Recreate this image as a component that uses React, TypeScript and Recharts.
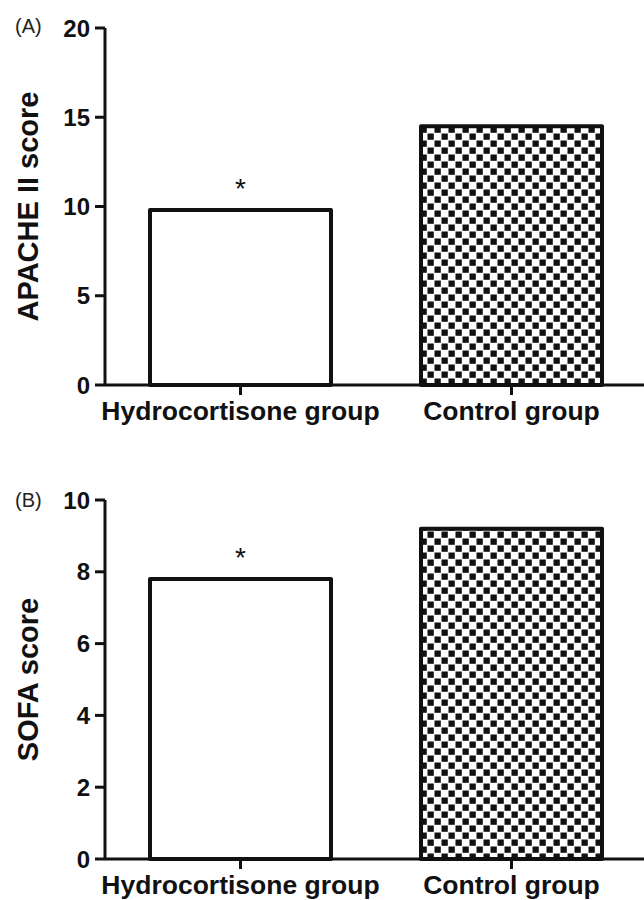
import React from "react";
import { BarChart, Bar, XAxis, YAxis, Cell, LabelList } from "recharts";

const categories = ["Hydrocortisone group", "Control group"];
const apacheValues = [9.8, 14.5];
const sofaValues = [7.8, 9.2];
const significance = ["*", ""];
const apacheTicks = [0, 5, 10, 15, 20];
const sofaTicks = [0, 2, 4, 6, 8, 10];
const barFills = ["#ffffff", "url(#checker)"];

const FONT = "'Liberation Sans', Arial, Helvetica, sans-serif";
const INK = "#111111";

const dataA = categories.map((name, i) => ({ name, value: apacheValues[i], sig: significance[i] }));
const dataB = categories.map((name, i) => ({ name, value: sofaValues[i], sig: significance[i] }));

const AxisTitle = (props: any) => {
  const { viewBox, text } = props;
  const cx = viewBox.x + 28;
  const cy = viewBox.y + viewBox.height / 2;
  return (
    <text
      x={cx}
      y={cy}
      transform={`rotate(-90, ${cx}, ${cy})`}
      textAnchor="middle"
      dominantBaseline="central"
      fontFamily={FONT}
      fontWeight={700}
      fontSize={29}
      fill={INK}
    >
      {text}
    </text>
  );
};

const Panel = ({ data, ticks, max, title, height, top, xAxisHeight }: any) => (
  <BarChart
    width={650}
    height={height}
    data={data}
    margin={{ top, right: 3, left: 0, bottom: 0 }}
    barCategoryGap={0}
  >
    <XAxis
      dataKey="name"
      interval={0}
      height={xAxisHeight}
      tickSize={10}
      tickMargin={6}
      axisLine={{ stroke: INK, strokeWidth: 3 }}
      tickLine={{ stroke: INK, strokeWidth: 3 }}
      tick={{ fontSize: 26.5, fontWeight: 700, fill: INK, fontFamily: FONT }}
    />
    <YAxis
      width={105}
      domain={[0, max]}
      ticks={ticks}
      interval={0}
      tickSize={10}
      tickMargin={5}
      axisLine={{ stroke: INK, strokeWidth: 3 }}
      tickLine={{ stroke: INK, strokeWidth: 3 }}
      tick={{ fontSize: 24, fontWeight: 700, fill: INK, fontFamily: FONT }}
      label={<AxisTitle text={title} />}
    />
    <Bar
      dataKey="value"
      barSize={181}
      stroke={INK}
      strokeWidth={4}
      strokeLinejoin="round"
      isAnimationActive={false}
    >
      {data.map((_: any, i: number) => (
        <Cell key={i} fill={barFills[i]} />
      ))}
      <LabelList
        dataKey="sig"
        position="top"
        offset={12}
        style={{ fontSize: 28, fontFamily: FONT, fill: INK, fontWeight: 400 }}
      />
    </Bar>
  </BarChart>
);

export default function App() {
  return (
    <div
      style={{
        position: "absolute",
        left: 0,
        top: 0,
        width: 644,
        height: 900,
        overflow: "hidden",
        background: "#fff",
      }}
    >
      <svg width={0} height={0} style={{ position: "absolute" }}>
        <defs>
          <pattern id="checker" patternUnits="userSpaceOnUse" width={14} height={14}>
            <rect x={0} y={0} width={14} height={14} fill="#ffffff" />
            <rect x={0.5} y={0.5} width={6.3} height={6.3} fill="#111111" />
            <rect x={7.5} y={7.5} width={6.3} height={6.3} fill="#111111" />
          </pattern>
        </defs>
      </svg>
      <div style={{ position: "absolute", left: 0, top: 0 }}>
        <Panel data={dataA} ticks={apacheTicks} max={20} title="APACHE II score" height={440} top={28} xAxisHeight={55} />
      </div>
      <div style={{ position: "absolute", left: 0, top: 440 }}>
        <Panel data={dataB} ticks={sofaTicks} max={10} title="SOFA score" height={460} top={60} xAxisHeight={41} />
      </div>
      <div style={{ position: "absolute", left: 15, top: 15, fontFamily: FONT, fontSize: 20, color: "#222" }}>(A)</div>
      <div style={{ position: "absolute", left: 15, top: 489, fontFamily: FONT, fontSize: 20, color: "#222" }}>(B)</div>
    </div>
  );
}
